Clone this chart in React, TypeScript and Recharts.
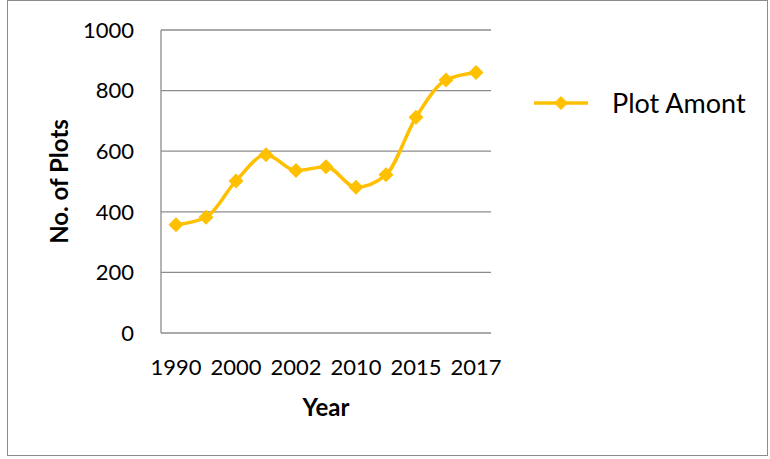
import React from "react";
import {
  LineChart,
  Line,
  XAxis,
  YAxis,
  CartesianGrid,
  Legend,
  Label,
} from "recharts";

const years = ["1990", "1995", "2000", "2001", "2002", "2005", "2010", "2012", "2015", "2016", "2017"];
const plotCounts = [357, 382, 502, 588, 536, 549, 481, 522, 712, 835, 860];
const yTicks = [0, 200, 400, 600, 800, 1000];
const seriesName = "Plot Amont";

const data = years.map((year, i) => ({ year, plots: plotCounts[i] }));

const gold = "#FFC000";
const gridGrey = "#8c8c8c";
const font = "Lato, 'Open Sans', sans-serif";

// legend box width is added to the right offset by recharts
const legendWidth = 236;

function Diamond(props: any) {
  const { cx, cy } = props;
  if (cx == null || cy == null) return null;
  const r = 7.5;
  return (
    <path
      d={`M${cx},${cy - r}L${cx + r},${cy}L${cx},${cy + r}L${cx - r},${cy}Z`}
      fill={gold}
    />
  );
}

function LegendBox() {
  return (
    <div style={{ display: "flex", alignItems: "center", fontFamily: font }}>
      <svg width={58} height={20}>
        <line x1={2} y1={10} x2={56} y2={10} stroke={gold} strokeWidth={3.5} />
        <path d="M29,3L36,10L29,17L22,10Z" fill={gold} />
      </svg>
      <span style={{ marginLeft: 22, fontSize: 27, color: "#000", whiteSpace: "nowrap" }}>
        {seriesName}
      </span>
    </div>
  );
}

export default function App() {
  return (
    <div style={{ position: "absolute", left: 0, top: 0, width: 770, height: 459, background: "#fff" }}>
      <div
        style={{
          position: "absolute",
          left: 7,
          top: 0,
          width: 761,
          height: 456,
          border: "1.5px solid #8c8c8c",
          boxSizing: "border-box",
        }}
      />
      <div style={{ position: "absolute", left: 0, top: 0 }}>
        <LineChart
          width={770}
          height={459}
          data={data}
          margin={{ top: 30, right: 279 - legendWidth, bottom: 66, left: 0 }}
        >
          <CartesianGrid vertical={false} stroke={gridGrey} strokeWidth={1.3} />
          <XAxis
            dataKey="year"
            interval={1}
            height={60}
            padding={{ left: 15, right: 15 }}
            axisLine={false}
            tickLine={false}
            tickSize={0}
            tickMargin={26}
            tick={{ fill: "#000", fontSize: 22, fontFamily: font }}
          >
            <Label
              content={({ viewBox }: any) => (
                <text
                  x={viewBox.x + viewBox.width / 2}
                  y={viewBox.y + 83}
                  textAnchor="middle"
                  fontFamily={font}
                  fontWeight="bold"
                  fontSize={24}
                  fill="#000"
                >
                  Year
                </text>
              )}
            />
          </XAxis>
          <YAxis
            width={161}
            domain={[0, 1000]}
            ticks={yTicks}
            axisLine={{ stroke: gridGrey, strokeWidth: 1.3 }}
            tickLine={false}
            tickSize={0}
            tickMargin={27}
            tick={{ fill: "#000", fontSize: 22, fontFamily: font }}
          >
            <Label
              content={({ viewBox }: any) => {
                const x = viewBox.x + 58;
                const y = viewBox.y + viewBox.height / 2;
                return (
                  <text
                    x={x}
                    y={y}
                    transform={`rotate(-90 ${x} ${y})`}
                    textAnchor="middle"
                    dominantBaseline="central"
                    fontFamily={font}
                    fontWeight="bold"
                    fontSize={24}
                    fill="#000"
                  >
                    No. of Plots
                  </text>
                );
              }}
            />
          </YAxis>
          <Legend
            layout="horizontal"
            verticalAlign="middle"
            align="right"
            wrapperStyle={{ left: 532, top: 86, right: "auto", width: legendWidth }}
            content={() => <LegendBox />}
          />
          <Line
            type="monotone"
            dataKey="plots"
            name={seriesName}
            stroke={gold}
            strokeWidth={3.5}
            dot={<Diamond />}
            activeDot={false}
            isAnimationActive={false}
          />
        </LineChart>
      </div>
    </div>
  );
}
